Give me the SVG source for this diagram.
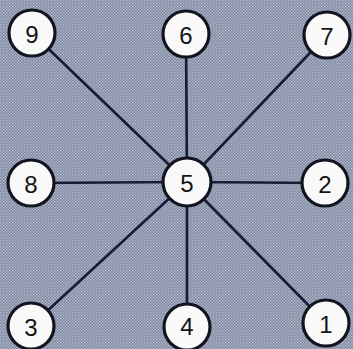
<svg xmlns="http://www.w3.org/2000/svg" width="353" height="349" viewBox="0 0 353 349">
<defs>
<pattern id="dots" width="3" height="3" patternUnits="userSpaceOnUse">
<rect width="3" height="3" fill="#7d879e"/>
<rect x="0" y="0" width="1.5" height="1.5" fill="#b3bbcd"/>
<rect x="1.5" y="1.5" width="1.5" height="1.5" fill="#a5aec2"/>
</pattern>
<style>
.edge{stroke:#161b38;stroke-width:2.6;fill:none}
.node circle{fill:#f9f9f9;stroke:#121420;stroke-width:3.2}
.node text{font-family:"Liberation Sans",Arial,sans-serif;font-size:24px;fill:#141414;text-anchor:middle;dominant-baseline:central}
</style>
</defs>
<rect width="353" height="349" fill="url(#dots)"/>
<g id="connectors">
<line class="edge" x1="187" y1="182" x2="32" y2="33"/>
<line class="edge" x1="187" y1="182" x2="186" y2="34"/>
<line class="edge" x1="187" y1="182" x2="327" y2="35"/>
<line class="edge" x1="187" y1="182" x2="31" y2="183"/>
<line class="edge" x1="187" y1="182" x2="325" y2="183"/>
<line class="edge" x1="187" y1="182" x2="31" y2="326"/>
<line class="edge" x1="187" y1="182" x2="187" y2="327"/>
<line class="edge" x1="187" y1="182" x2="326" y2="323"/>
</g>
<g id="n9" class="node"><circle cx="32" cy="33" r="23"/><text x="32" y="34">9</text></g>
<g id="n6" class="node"><circle cx="186" cy="34" r="23"/><text x="186" y="35">6</text></g>
<g id="n7" class="node"><circle cx="327" cy="35" r="23"/><text x="327" y="36">7</text></g>
<g id="n8" class="node"><circle cx="31" cy="183" r="23"/><text x="31" y="184">8</text></g>
<g id="n5" class="node"><circle cx="187" cy="182" r="24"/><text x="187" y="183">5</text></g>
<g id="n2" class="node"><circle cx="325" cy="183" r="23"/><text x="325" y="184">2</text></g>
<g id="n3" class="node"><circle cx="31" cy="326" r="23"/><text x="31" y="327">3</text></g>
<g id="n4" class="node"><circle cx="187" cy="327" r="23"/><text x="187" y="326">4</text></g>
<g id="n1" class="node"><circle cx="326" cy="323" r="23"/><text x="326" y="324">1</text></g>
</svg>
